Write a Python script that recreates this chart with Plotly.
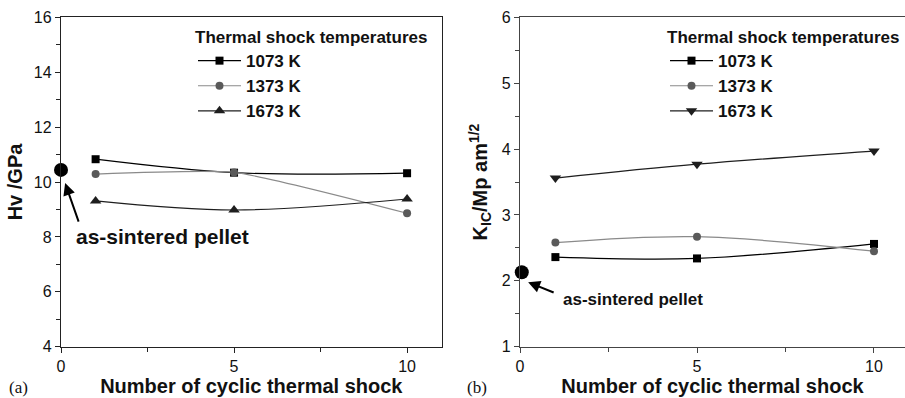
import plotly.graph_objects as go

# ---------------- data ----------------
cycles = [1, 5, 10]
temps = ["1073 K", "1373 K", "1673 K"]

hv_1073 = [10.83, 10.34, 10.32]
hv_1373 = [10.29, 10.35, 8.86]
hv_1673 = [9.31, 8.98, 9.38]
hv_sintered_x = [0]
hv_sintered_y = [10.44]

kic_1073 = [2.36, 2.34, 2.56]
kic_1373 = [2.58, 2.67, 2.45]
kic_1673 = [3.56, 3.77, 3.97]
kic_sintered_x = [0.05]
kic_sintered_y = [2.13]

xticks = [0, 5, 10]

# ---------------- styling ----------------
FONT = "Liberation Sans, Arial, sans-serif"
SERIF = "Liberation Serif, Times New Roman, serif"
line_cols = ["#000000", "#8a8a8a", "#1e1e1e"]
mark_cols = ["#000000", "#5a5a5a", "#1e1e1e"]
left_syms = ["square", "circle", "triangle-up"]
right_syms = ["square", "circle", "triangle-down"]
mark_sizes = [8, 8, 10]
left_smooth = [1.0, 0.5, 1.0]
right_smooth = [1.0, 1.0, 1.0]

fig = go.Figure()

left_series = [hv_1073, hv_1373, hv_1673]
right_series = [kic_1073, kic_1373, kic_1673]

for i, name in enumerate(temps):
    fig.add_trace(go.Scatter(
        x=cycles, y=left_series[i], name=name, mode="lines+markers",
        line=dict(color=line_cols[i], width=1.2, shape="spline", smoothing=left_smooth[i]),
        marker=dict(symbol=left_syms[i], size=mark_sizes[i], color=mark_cols[i]),
        xaxis="x", yaxis="y", legend="legend", cliponaxis=False))
for i, name in enumerate(temps):
    fig.add_trace(go.Scatter(
        x=cycles, y=right_series[i], name=name, mode="lines+markers",
        line=dict(color=line_cols[i], width=1.2, shape="spline", smoothing=right_smooth[i]),
        marker=dict(symbol=right_syms[i], size=mark_sizes[i], color=mark_cols[i]),
        xaxis="x2", yaxis="y2", legend="legend2", cliponaxis=False))

fig.add_trace(go.Scatter(x=hv_sintered_x, y=hv_sintered_y, mode="markers",
                         marker=dict(symbol="circle", size=14, color="#000"),
                         showlegend=False, xaxis="x", yaxis="y", cliponaxis=False))
fig.add_trace(go.Scatter(x=kic_sintered_x, y=kic_sintered_y, mode="markers",
                         marker=dict(symbol="circle", size=14, color="#000"),
                         showlegend=False, xaxis="x2", yaxis="y2", cliponaxis=False))

W, H = 905, 398
ydom = [(H - 346.7) / H, (H - 17.3) / H]

axis_common = dict(showgrid=False, zeroline=False, ticks="outside", ticklen=5,
                   tickwidth=1.2, showline=True, mirror=True, linewidth=1.3,
                   tickfont=dict(family=FONT, size=16, color="#111"),
                   automargin=False)

fig.update_layout(
    width=W, height=H, margin=dict(l=0, r=0, t=0, b=0),
    paper_bgcolor="white", plot_bgcolor="white",
    font=dict(family=FONT, color="#111"),
    xaxis=dict(domain=[61 / W, 441.7 / W], range=[0, 11], tickvals=xticks,
               linecolor="#222", tickcolor="#222",
               minor=dict(dtick=2.5, tick0=0, ticks="outside", ticklen=4, tickcolor="#222"),
               title=dict(text="<b>Number of cyclic thermal shock</b>",
                          font=dict(family=FONT, size=20), standoff=4),
               anchor="y", **axis_common),
    yaxis=dict(domain=ydom, range=[4, 16], dtick=2, tick0=4,
               linecolor="#222", tickcolor="#222",
               minor=dict(dtick=1, tick0=4, ticks="outside", ticklen=4, tickcolor="#222"),
               title=dict(text="<b>Hv /GPa</b>", font=dict(family=FONT, size=20), standoff=5),
               anchor="x", **axis_common),
    xaxis2=dict(domain=[520 / W, 1.0], range=[0, 10.876], tickvals=xticks,
                linecolor="#444", tickcolor="#444",
                minor=dict(dtick=2.5, tick0=0, ticks="outside", ticklen=4, tickcolor="#444"),
                title=dict(text="<b>Number of cyclic thermal shock</b>",
                           font=dict(family=FONT, size=20), standoff=4),
                anchor="y2", **axis_common),
    yaxis2=dict(domain=ydom, range=[1, 6], dtick=1, tick0=1,
                linecolor="#444", tickcolor="#444",
                minor=dict(dtick=0.5, tick0=1, ticks="outside", ticklen=4, tickcolor="#444"),
                title=dict(text="<b>K<sub>IC</sub>/Mp am<sup>1/2</sup></b>",
                           font=dict(family=FONT, size=20), standoff=8),
                anchor="x2", **axis_common),
    legend=dict(x=193 / W, y=1 - 21 / H, xanchor="left", yanchor="top",
                bgcolor="rgba(0,0,0,0)", itemwidth=43, tracegroupgap=6,
                title=dict(text="<b>Thermal shock temperatures</b>",
                           font=dict(family=FONT, size=17)),
                font=dict(family=FONT, size=17, weight="bold"),
                traceorder="normal"),
    legend2=dict(x=665 / W, y=1 - 21 / H, xanchor="left", yanchor="top",
                 bgcolor="rgba(0,0,0,0)", itemwidth=43, tracegroupgap=6,
                 title=dict(text="<b>Thermal shock temperatures</b>",
                            font=dict(family=FONT, size=17)),
                 font=dict(family=FONT, size=17, weight="bold"),
                 traceorder="normal"),
    showlegend=True,
)

# arrows and labels
fig.add_annotation(x=0.12, y=9.96, xref="x", yref="y", ax=14, ay=40,
                   text="", showarrow=True, arrowhead=2, arrowsize=1.2,
                   arrowwidth=2, arrowcolor="#000")
fig.add_annotation(x=2.93, y=8.0, xref="x", yref="y", text="<b>as-sintered pellet</b>",
                   showarrow=False, font=dict(family=FONT, size=21, color="#111"))
fig.add_annotation(x=0.23, y=1.98, xref="x2", yref="y2", ax=27, ay=11,
                   text="", showarrow=True, arrowhead=2, arrowsize=1.2,
                   arrowwidth=2, arrowcolor="#000")
fig.add_annotation(x=3.2, y=1.72, xref="x2", yref="y2", text="<b>as-sintered pellet</b>",
                   showarrow=False, font=dict(family=FONT, size=17, color="#111"))

fig.add_annotation(x=18 / W, y=1 - 387 / H, xref="paper", yref="paper", text="(a)",
                   xanchor="center", yanchor="middle",
                   showarrow=False, font=dict(family=SERIF, size=17, color="#111"))
fig.add_annotation(x=477 / W, y=1 - 387 / H, xref="paper", yref="paper", text="(b)",
                   xanchor="center", yanchor="middle",
                   showarrow=False, font=dict(family=SERIF, size=17, color="#111"))

fig.write_html("out.html")
